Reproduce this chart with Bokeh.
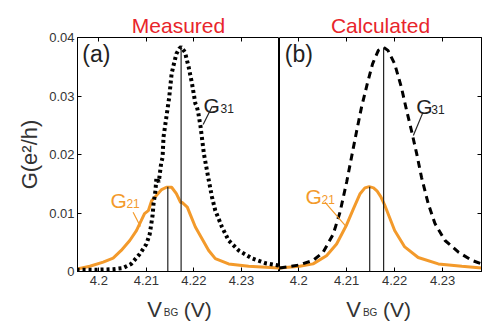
import math
from bokeh.plotting import figure
from bokeh.layouts import row, column
from bokeh.models import Range1d, FixedTicker, CustomJSTickFormatter, LinearAxis, Label, Title
from bokeh.core.properties import value
from bokeh.embed import file_html
from bokeh.resources import INLINE

# ---------------- data ----------------
x_ticks = [4.2, 4.21, 4.22, 4.23]
y_ticks = [0.0, 0.01, 0.02, 0.03, 0.04]

meas_g31_v = [4.1953, 4.1995, 4.2030, 4.2051, 4.2068, 4.2086, 4.2100, 4.2107, 4.2113, 4.2115,
              4.2119, 4.2121, 4.2126, 4.2131, 4.2134, 4.2136, 4.2142, 4.2148, 4.2153, 4.2157,
              4.2163, 4.2169, 4.2173, 4.2181, 4.2189, 4.2196, 4.2203, 4.2206, 4.2209, 4.2214,
              4.2221, 4.2230, 4.2238, 4.2245, 4.2259, 4.2273, 4.2294, 4.2323, 4.2351, 4.2379]
meas_g31_g = [0.0003, 0.0003, 0.0004, 0.0006, 0.0013, 0.0030, 0.0047, 0.0064, 0.0096, 0.0116,
              0.0138, 0.0160, 0.0153, 0.0185, 0.0195, 0.0230, 0.0264, 0.0298, 0.0338, 0.0352,
              0.0372, 0.0381, 0.0384, 0.0375, 0.0349, 0.0321, 0.0287, 0.0282, 0.0272, 0.0247,
              0.0201, 0.0161, 0.0127, 0.0104, 0.0076, 0.0053, 0.0036, 0.0022, 0.0014, 0.0010]

meas_g21_v = [4.1953, 4.1981, 4.2009, 4.2030, 4.2047, 4.2065, 4.2079, 4.2089, 4.2096, 4.2104,
              4.2111, 4.2121, 4.2132, 4.2142, 4.2153, 4.2163, 4.2172, 4.2175, 4.2186, 4.2193,
              4.2203, 4.2217, 4.2231, 4.2245, 4.2273, 4.2315, 4.2379]
meas_g21_g = [0.0004, 0.0009, 0.0016, 0.0023, 0.0036, 0.0053, 0.0070, 0.0087, 0.0099, 0.0104,
              0.0121, 0.0130, 0.0140, 0.0144, 0.0144, 0.0133, 0.0118, 0.0118, 0.0110, 0.0096,
              0.0076, 0.0056, 0.0036, 0.0022, 0.0013, 0.0009, 0.0006]

calc_g31_v = [4.1960, 4.2000, 4.2030, 4.2051, 4.2072, 4.2086, 4.2100, 4.2110, 4.2121, 4.2131,
              4.2143, 4.2154, 4.2166, 4.2177, 4.2186, 4.2200, 4.2214, 4.2225, 4.2235, 4.2246,
              4.2256, 4.2270, 4.2284, 4.2305, 4.2333, 4.2361, 4.2381]
calc_g31_g = [0.0006, 0.0011, 0.0019, 0.0033, 0.0064, 0.0101, 0.0153, 0.0195, 0.0241, 0.0281,
              0.0321, 0.0355, 0.0378, 0.0383, 0.0378, 0.0355, 0.0315, 0.0275, 0.0241, 0.0201,
              0.0161, 0.0116, 0.0082, 0.0053, 0.0033, 0.0019, 0.0013]

calc_g21_v = [4.1960, 4.2002, 4.2030, 4.2058, 4.2079, 4.2100, 4.2114, 4.2128, 4.2138, 4.2147,
              4.2156, 4.2163, 4.2171, 4.2180, 4.2200, 4.2221, 4.2249, 4.2291, 4.2340, 4.2381]
calc_g21_g = [0.0006, 0.0009, 0.0013, 0.0027, 0.0047, 0.0080, 0.0107, 0.0133, 0.0143, 0.0145,
              0.0143, 0.0138, 0.0128, 0.0112, 0.0070, 0.0042, 0.0024, 0.0013, 0.0009, 0.0006]

# peak markers (V, G)
meas_peaks_v = [4.2145, 4.2173]
meas_peaks_g = [0.0145, 0.0385]
calc_peaks_v = [4.2148, 4.2177]
calc_peaks_g = [0.0145, 0.0383]

panel_titles = ["Measured", "Calculated"]
x_label_main = "V"
x_label_sub = "BG"
x_label_unit = "(V)"
y_label = "G(e²/h)"

ORANGE = "#F39A2B"
RED = "#E8252B"
TXT = "#333333"
FONT = "Liberation Sans"
TOP = 37
FRAME_H = 234
BOTTOM = 22


def base_fig(xr, left_border, right_border, y_loc, title):
    p = figure(width=left_border + 202 + right_border, height=TOP + FRAME_H + BOTTOM,
               x_range=Range1d(*xr), y_range=Range1d(0, 0.04),
               output_backend="svg", toolbar_location=None,
               min_border_left=left_border, min_border_right=right_border,
               min_border_top=TOP, min_border_bottom=BOTTOM,
               y_axis_location=y_loc)
    p.grid.visible = False
    p.outline_line_color = "black"
    p.outline_line_width = 1
    p.background_fill_color = "white"
    p.border_fill_color = "white"
    for ax in p.xaxis + p.yaxis:
        ax.major_tick_in = 4
        ax.major_tick_out = 0
        ax.minor_tick_line_color = None
        ax.axis_line_color = "black"
        ax.major_label_text_font = FONT
        ax.major_label_text_font_size = "13px"
        ax.major_label_text_color = TXT
    p.xaxis.ticker = FixedTicker(ticks=x_ticks)
    p.xaxis.formatter = CustomJSTickFormatter(code="return tick.toFixed(2).replace(/0$/, '');")
    p.xaxis.major_label_standoff = 4
    p.yaxis.ticker = FixedTicker(ticks=y_ticks)
    top = LinearAxis(ticker=FixedTicker(ticks=x_ticks),
                     formatter=CustomJSTickFormatter(code="return '';"),
                     major_tick_in=4, major_tick_out=0, minor_tick_line_color=None,
                     axis_line_color=None, major_label_standoff=0)
    p.add_layout(top, "above")
    p.title = Title(text=title, align="center", text_color=RED, text_font=FONT,
                    text_font_size="21px", text_font_style="normal", standoff=2, offset=0)
    return p


def add_text(p, x, y, text, size, color, align="left", baseline="alphabetic"):
    p.add_layout(Label(x=x, y=y, text=text, text_font=FONT, text_font_size=size,
                       text_color=color, text_align=align, text_baseline=baseline))


# ---------------- (a) measured ----------------
p1 = base_fig((4.1955, 4.238), 77, 0, "left", panel_titles[0])
p1.yaxis.formatter = CustomJSTickFormatter(code="return tick == 0 ? '0' : tick.toFixed(2);")
p1.yaxis.major_label_standoff = 3
p1.yaxis.axis_label = y_label
p1.yaxis.axis_label_text_font = FONT
p1.yaxis.axis_label_text_font_size = "22px"
p1.yaxis.axis_label_text_font_style = "normal"
p1.yaxis.axis_label_text_color = TXT
p1.yaxis.axis_label_standoff = 4

p1.line(meas_g21_v, meas_g21_g, line_color=ORANGE, line_width=3)
p1.line(meas_g31_v, meas_g31_g, line_color="black", line_width=4, line_dash="3 3")
p1.segment(x0=meas_peaks_v, y0=[0, 0], x1=meas_peaks_v, y1=meas_peaks_g,
           line_color="#222222", line_width=1.2)
p1.segment(x0=[4.22383], y0=[0.02821], x1=[4.22194], y1=[0.02513], line_color="#222222", line_width=1.2)
p1.segment(x0=[4.2072], y0=[0.01014], x1=[4.20874], y1=[0.00769], line_color=ORANGE, line_width=1.2)

add_text(p1, 4.1965, 0.03726, "(a)", "23px", "#222222", baseline="middle")
add_text(p1, 4.2220, 0.02838, "G", "21px", "#222222")
add_text(p1, 4.22558, 0.02786, "31", "12px", "#222222")
add_text(p1, 4.20242, 0.01214, "G", "21px", ORANGE)
add_text(p1, 4.20579, 0.01162, "21", "12px", ORANGE)

# ---------------- (b) calculated ----------------
p2 = base_fig((4.196, 4.2381), 0, 10, "right", panel_titles[1])
p2.yaxis.formatter = CustomJSTickFormatter(code="return '';")
p2.yaxis.major_label_standoff = 0

p2.line(calc_g21_v, calc_g21_g, line_color=ORANGE, line_width=3)
p2.line(calc_g31_v, calc_g31_g, line_color="black", line_width=3, line_dash="7 5")
p2.segment(x0=calc_peaks_v, y0=[0, 0], x1=calc_peaks_v, y1=calc_peaks_g,
           line_color="#222222", line_width=1.2)
p2.segment(x0=[4.2259], y0=[0.0272], x1=[4.2239], y1=[0.02325], line_color="#222222", line_width=1.2)
p2.segment(x0=[4.20546], y0=[0.01185], x1=[4.20985], y1=[0.0077], line_color=ORANGE, line_width=1.2)

add_text(p2, 4.19709, 0.03726, "(b)", "23px", "#222222", baseline="middle")
add_text(p2, 4.2245, 0.02821, "G", "21px", "#222222")
add_text(p2, 4.22764, 0.02769, "31", "12px", "#222222")
add_text(p2, 4.20142, 0.01282, "G", "21px", ORANGE)
add_text(p2, 4.20477, 0.01231, "21", "12px", ORANGE)

# ---------------- x-axis titles (strip below, pixel layout) ----------------
total_w = p1.width + p2.width
lab = figure(width=total_w, height=28, x_range=Range1d(0, total_w), y_range=Range1d(28, 0),
             output_backend="svg", toolbar_location=None, x_axis_type=None, y_axis_type=None,
             min_border=0, min_border_left=0, min_border_right=0, min_border_top=0,
             min_border_bottom=0)
lab.outline_line_color = None
lab.grid.visible = False
for x0 in (146.7, 345.8):
    lab.text(x=[x0], y=[15.5], text=[x_label_main], text_font=value(FONT), text_font_size="22px",
             text_color=TXT, text_baseline="alphabetic")
    lab.text(x=[x0 + 16.6], y=[19], text=[x_label_sub], text_font=value(FONT), text_font_size="10px",
             text_color=TXT, text_baseline="alphabetic")
    lab.text(x=[x0 + 36.6], y=[15.5], text=[x_label_unit], text_font=value(FONT), text_font_size="21px",
             text_color=TXT, text_baseline="alphabetic")

layout = column(row(p1, p2), lab)
open("out.html", "w").write(file_html(layout, INLINE))
